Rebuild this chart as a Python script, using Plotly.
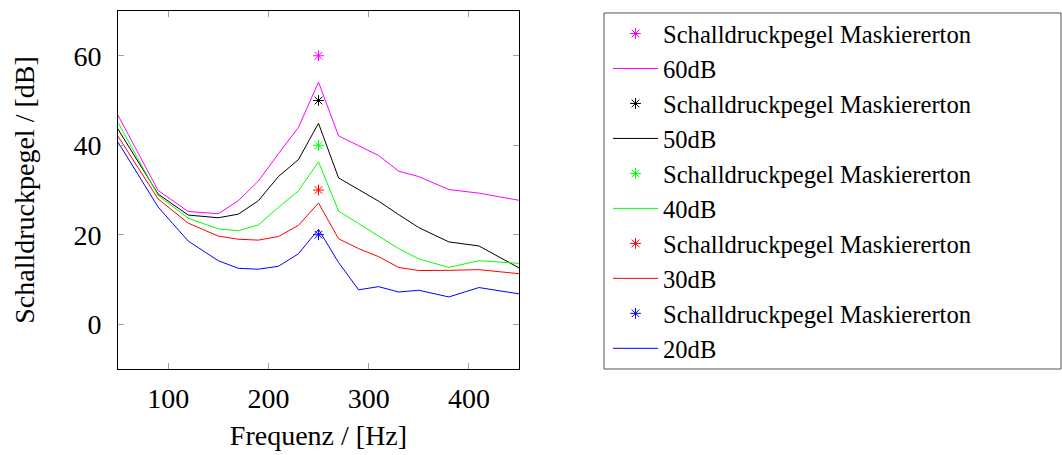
import plotly.graph_objects as go

freq = [50, 90, 120, 150, 170, 190, 210, 230, 250, 270, 290, 310, 330, 350, 380, 410, 450]
l60 = [46.7, 29.9, 25.2, 24.7, 27.6, 32.0, 38.1, 44.0, 54.1, 42.1, 39.9, 37.7, 34.2, 33.0, 30.1, 29.3, 27.7]
l50 = [43.6, 29.1, 24.4, 23.8, 24.6, 27.6, 33.0, 36.8, 44.9, 32.7, 30.1, 27.5, 24.5, 21.6, 18.4, 17.5, 12.6]
l40 = [45.1, 28.8, 23.7, 21.3, 20.9, 22.2, 26.1, 29.8, 36.3, 25.3, 22.5, 19.7, 16.9, 14.6, 12.7, 14.2, 13.6]
l30 = [42.0, 28.0, 22.6, 19.7, 19.0, 18.8, 19.6, 22.1, 27.1, 19.1, 16.9, 15.1, 12.7, 12.0, 12.05, 12.2, 11.3]
l20 = [40.7, 26.2, 18.6, 14.2, 12.5, 12.3, 12.95, 15.75, 21.2, 13.8, 7.7, 8.4, 7.2, 7.6, 6.1, 8.2, 6.8]

mask_freq = [250]
mask_levels = [60, 50, 40, 30, 20]
line_names = ["60dB", "50dB", "40dB", "30dB", "20dB"]
colors = ["#ff00ff", "#000000", "#00ff00", "#ff0000", "#0000ff"]
series = [l60, l50, l40, l30, l20]
marker_name = "Schalldruckpegel Maskiererton"

FONT = "Liberation Serif"

fig = go.Figure()
for lvl, name, col, ys in zip(mask_levels, line_names, colors, series):
    fig.add_trace(go.Scatter(
        x=mask_freq, y=[lvl], mode="markers", name=marker_name,
        marker=dict(symbol="asterisk-open", size=9, color=col, line=dict(color=col, width=1))))
    fig.add_trace(go.Scatter(
        x=freq, y=ys, mode="lines", name=name,
        line=dict(color=col, width=1)))

axis_common = dict(
    showgrid=False, zeroline=False, showline=True, linecolor="black", linewidth=1,
    mirror="ticks", ticks="inside", ticklen=6, tickcolor="#a0a0a0", tickwidth=1,
    tickfont=dict(family=FONT, size=28, color="black"),
)

fig.update_xaxes(range=[50, 450], tickvals=[100, 200, 300, 400],
                 title=dict(text="Frequenz / [Hz]", font=dict(family=FONT, size=28, color="black"), standoff=12),
                 ticklabelstandoff=4, **axis_common)
fig.update_yaxes(range=[-10, 70], tickvals=[0, 20, 40, 60],
                 title=dict(text="Schalldruckpegel / [dB]", font=dict(family=FONT, size=28, color="black"), standoff=30),
                 ticklabelstandoff=10, **axis_common)

fig.add_shape(type="rect", xref="paper", yref="paper",
              x0=(604 - 118) / 401, x1=(1061 - 118) / 401,
              y0=0.0, y1=1 - 2 / 362, line=dict(color="#555555", width=1))

fig.update_layout(
    width=1062, height=455,
    margin=dict(l=118, r=543, t=10, b=83),
    plot_bgcolor="white", paper_bgcolor="white",
    font=dict(family=FONT, color="black"),
    legend=dict(x=(608 - 118) / 401, y=1.0, xanchor="left", yanchor="top",
                font=dict(family=FONT, size=24.6, color="black"),
                bgcolor="rgba(0,0,0,0)", borderwidth=0, tracegroupgap=0, itemwidth=45,
                maxheight=445),
    showlegend=True,
)

fig.write_html("out.html")
